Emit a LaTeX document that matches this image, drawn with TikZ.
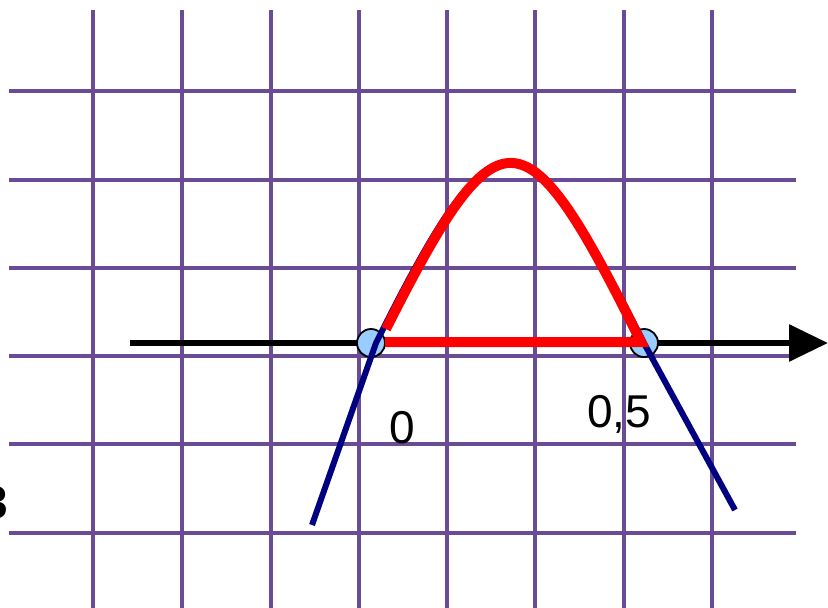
\documentclass[tikz,border=0pt]{standalone}
\usepackage{fontspec}
\setmainfont{Liberation Sans}
\usetikzlibrary{arrows.meta}
\definecolor{gridpurple}{RGB}{105,75,150}
\definecolor{curvenavy}{RGB}{0,0,128}
\definecolor{ptblue}{RGB}{153,204,255}
\definecolor{hired}{RGB}{255,0,0}
\tikzset{
  gridline/.style={gridpurple,line width=3.5pt},
  axisline/.style={black,line width=6pt,-{Triangle[length=39pt,width=36pt]}},
  rootpt/.style={circle,draw=black,line width=1.8pt,fill=ptblue,minimum size=28pt,inner sep=0pt},
  bluecurve/.style={curvenavy,line width=6pt,line join=round},
  redcurve/.style={hired,line width=10pt,line join=miter},
  lbl/.style={font=\fontsize{46}{50}\selectfont,inner sep=0pt}
}
\begin{document}
\begin{tikzpicture}[x=1pt,y=-1pt]
\useasboundingbox (0,0) rectangle (828,608);
% grid
\foreach \gx in {93,182,271,359,447,535,624,712}
  \draw[gridline] (\gx,10) -- (\gx,608);
\foreach \gy in {91,180,268,356,444,533}
  \draw[gridline] (9,\gy) -- (796,\gy);
% axis
\coordinate (axL) at (130,343);
\coordinate (axR) at (828,343);
\draw[axisline] (axL) -- (axR);
% roots
\node[rootpt] (z0) at (371,343) {};
\node[rootpt] (z1) at (644,343) {};
% blue parabola
\coordinate (bA) at (312,525);
\coordinate (bB) at (376,343);
\coordinate (bC) at (645,345);
\coordinate (bD) at (735,510);
\draw[bluecurve] (bA) -- (bB) .. controls (496,103) and (523,103) .. (bC) -- (bD);
% red region
\coordinate (rL) at (386,329);
\coordinate (rR) at (641,342);
\coordinate (hL) at (385,342);
\draw[redcurve] (rL) .. controls (500,103) and (525,108) .. (rR) -- (hL);
% labels
\node[lbl,anchor=base] (l0) at (402,443) {0};
\node[lbl,anchor=base] (l05) at (619,427) {0,5};
\node[lbl,anchor=base east,font=\fontsize{46}{50}\selectfont\bfseries] (l3) at (8,518) {3};
\end{tikzpicture}
\end{document}
